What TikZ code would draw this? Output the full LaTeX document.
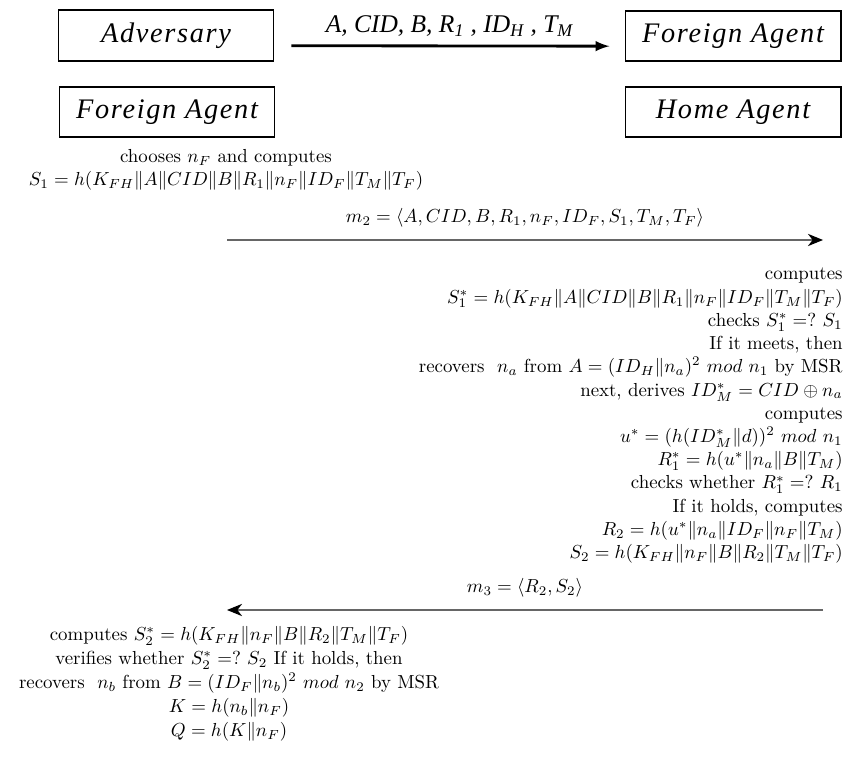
\documentclass[tikz,border=0pt]{standalone}
\usepackage{amsmath}
\usepackage{fontspec}
\newfontfamily\agentfont[LetterSpace=6]{Liberation Serif}
\newfontfamily\labelfont{Liberation Serif}
\usetikzlibrary{arrows,arrows.meta,positioning,calc}

\begin{document}
\begin{tikzpicture}[x=0.53pt,y=-0.53pt,arrow/.style = {line width=0.8pt,draw=black!60,-{Stealth[length=8pt,width=6.5pt,inset=2.5pt,black]}}]
					\tikzset{agent/.style={draw,rectangle,line width=1pt,minimum width=114pt,minimum height=26.8pt,inner sep=0pt,font=\agentfont\fontsize{15}{18}\selectfont\itshape}}
					\tikzset{steps/.style={inner sep=0pt}}

					\useasboundingbox (0,0) rectangle (852,775);

					% Agents
					\node[agent] (adv) at (166,35.5) {Adversary};
					\node[agent] (fa) at (733,36) {Foreign Agent};
					\node[agent] (fal) at (167,112) {Foreign Agent};
					\node[agent] (ha) at (733,112) {Home Agent};

					\draw[line width=1.5pt,-latex,shorten <=9pt,shorten >=8pt] ([yshift=-5.4pt]adv.east) -- node[above=1pt,font=\labelfont\fontsize{13.5}{16}\selectfont\itshape] (m1) {A, CID, B, R\textsubscript{\textit{1}} , ID\textsubscript{\textit{H}} , T\textsubscript{\textit{M}}} ([yshift=-5.4pt]fa.west);

					% Foreign agent
					\node[steps,align=center,anchor=north,font=\fontsize{10}{12.2}\selectfont] (fcomp) at (226,149) {chooses $n_F$ and computes\\
						$S_1 = h(K_{FH}\|A\|CID\|B\|R_1\|n_F\|ID_F\|T_M\|T_F)$};

					\coordinate (m2s) at (227,240);
					\coordinate (m2e) at (823,240);
					\draw[arrow] (m2s) -- node[above=3pt,text=black] (m2) {$m_2 = \langle A, CID, B, R_1, n_F, ID_F, S_1, T_M, T_F\rangle$} (m2e);

					% Home agent
					\node[steps,align=right,anchor=north east,font=\fontsize{10}{12.3}\selectfont] (hcomp) at (843,268) {computes\\
						$S_1^* = h(K_{FH}\|A\|CID\|B\|R_1\|n_F\|ID_F\|T_M\|T_F)$\\
						checks $S_1^* =?\ S_1$\\
						If it meets, then\\
						recovers\ \ $n_a$ from $A = (ID_H\|n_a)^2\ mod\ n_1$ by MSR\\
						next, derives $ID_M^* = CID \oplus n_a$\\
						computes\\
						$u^* = (h(ID_M^*\|d))^2\ mod\ n_1$\\
						$R_1^* = h(u^*\|n_a\|B\|T_M)$\\
						checks whether $R_1^* =?\ R_1$\\
						If it holds, computes\\
						$R_2 = h(u^*\|n_a\|ID_F\|n_F\|T_M)$\\
						$S_2 = h(K_{FH}\|n_F\|B\|R_2\|T_M\|T_F)$};

					\coordinate (m3s) at (823,610);
					\coordinate (m3e) at (227,610);
					\draw[arrow] (m3s) -- node[above=3pt,text=black] (m3) {$m_3 = \langle R_2, S_2\rangle$} (m3e);

					% Foreign agent verifies
					\node[steps,align=center,anchor=north,font=\fontsize{10}{12.7}\selectfont] (fver) at (229,626) {computes $S_2^* = h(K_{FH}\|n_F\|B\|R_2\|T_M\|T_F)$\\
						verifies whether $S_2^* =?\ S_2$ If it holds, then\\
						recovers\ \ $n_b$ from $B = (ID_F\|n_b)^2\ mod\ n_2$ by MSR\\
						$K = h(n_b\|n_F)$\\
						$Q = h(K\|n_F)$};

				\end{tikzpicture}
\end{document}
